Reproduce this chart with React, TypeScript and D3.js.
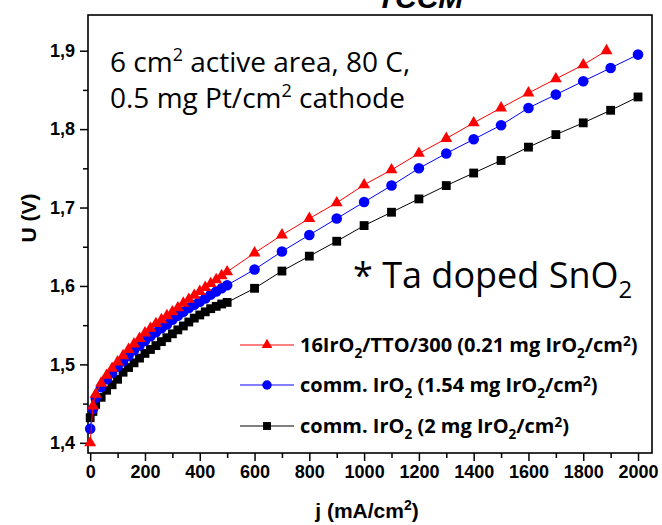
import React, { useEffect, useRef } from "react";
import * as d3 from "d3";

// current density steps (mA/cm2)
const jDense = [0, 10, 20, 40, 60, 80, 100, 120, 140, 160, 180, 200, 220, 240, 260, 280, 300, 320, 340, 360, 380, 400, 420, 440, 460, 480, 500];
const jCoarse = [600, 700, 800, 900, 1000, 1100, 1200, 1300, 1400, 1500, 1600, 1700, 1800, 1900, 2000];
const jRedCoarse = [600, 700, 800, 900, 1000, 1100, 1200, 1300, 1400, 1500, 1600, 1700, 1800, 1885];

// cell voltage (V)
const uRedDense = [1.4, 1.447, 1.462, 1.476, 1.486, 1.495, 1.503, 1.511, 1.519, 1.526, 1.533, 1.54, 1.546, 1.552, 1.557, 1.562, 1.567, 1.572, 1.578, 1.583, 1.588, 1.593, 1.598, 1.603, 1.608, 1.613, 1.618];
const uRedCoarse = [1.642, 1.665, 1.686, 1.706, 1.729, 1.748, 1.769, 1.788, 1.808, 1.827, 1.846, 1.864, 1.882, 1.9];
const uBlueDense = [1.418, 1.443, 1.457, 1.471, 1.481, 1.489, 1.497, 1.504, 1.511, 1.518, 1.524, 1.53, 1.536, 1.541, 1.546, 1.551, 1.557, 1.562, 1.567, 1.572, 1.576, 1.58, 1.584, 1.589, 1.593, 1.597, 1.601];
const uBlueCoarse = [1.621, 1.644, 1.665, 1.686, 1.707, 1.728, 1.75, 1.769, 1.787, 1.805, 1.827, 1.844, 1.861, 1.878, 1.895];
const uBlackDense = [1.432, 1.44, 1.449, 1.458, 1.467, 1.474, 1.481, 1.49, 1.496, 1.502, 1.508, 1.514, 1.519, 1.524, 1.529, 1.534, 1.539, 1.544, 1.549, 1.554, 1.559, 1.563, 1.567, 1.571, 1.574, 1.577, 1.579];
const uBlackCoarse = [1.597, 1.619, 1.638, 1.657, 1.677, 1.694, 1.711, 1.728, 1.744, 1.76, 1.777, 1.793, 1.808, 1.824, 1.841];

const xTicks = [0, 200, 400, 600, 800, 1000, 1200, 1400, 1600, 1800, 2000];
const yTicks = [1.4, 1.5, 1.6, 1.7, 1.8, 1.9];

const W = 662;
const H = 525;

const App = () => {
  const ref = useRef<SVGSVGElement>(null);

  useEffect(() => {
    const svg = d3.select(ref.current);
    svg.selectAll("*").remove();

    const x = d3.scaleLinear().domain([-8, 2051]).range([88, 652]);
    const y = d3.scaleLinear().domain([1.387, 1.9455]).range([453, 15]);

    const series = [
      { color: "#000", j: jDense.concat(jCoarse), u: uBlackDense.concat(uBlackCoarse), sym: d3.symbolSquare, size: 78 },
      { color: "#0000ff", j: jDense.concat(jCoarse), u: uBlueDense.concat(uBlueCoarse), sym: d3.symbolCircle, size: 88 },
      { color: "#ff0000", j: jDense.concat(jRedCoarse), u: uRedDense.concat(uRedCoarse), sym: d3.symbolTriangle, size: 62 },
    ];

    // title, clipped at the top
    svg
      .append("text")
      .attr("x", 420)
      .attr("y", 8)
      .attr("text-anchor", "middle")
      .style("font-family", "Liberation Sans, Arial, sans-serif")
      .style("font-weight", "bold")
      .style("font-style", "italic")
      .style("font-size", "30px")
      .text("TCCM");

    // axes
    const fmt = (d: number) => d3.format(".1f")(d).replace(".", ",");
    const axisFont = (g: any) =>
      g.selectAll("text")
        .style("font-family", "Liberation Sans, Arial, sans-serif")
        .style("font-weight", "bold")
        .style("font-size", "18px")
        .attr("fill", "#000");

    svg
      .append("g")
      .attr("transform", "translate(0,453)")
      .call(d3.axisBottom(x).tickValues(d3.range(100, 2001, 200)).tickSize(5).tickFormat(() => ""))
      .call((g) => g.select(".domain").remove())
      .call((g) => g.selectAll("line").attr("stroke-width", 1.5));

    svg
      .append("g")
      .attr("transform", "translate(0,453)")
      .call(d3.axisBottom(x).tickValues(xTicks).tickSize(8).tickPadding(4).tickFormat(d3.format("d")))
      .call((g) => g.select(".domain").remove())
      .call((g) => g.selectAll("line").attr("stroke-width", 1.5))
      .call(axisFont);

    svg
      .append("g")
      .attr("transform", "translate(88,0)")
      .call(d3.axisLeft(y).tickValues([1.45, 1.55, 1.65, 1.75, 1.85]).tickSize(5).tickFormat(() => ""))
      .call((g) => g.select(".domain").remove())
      .call((g) => g.selectAll("line").attr("stroke-width", 1.5));

    svg
      .append("g")
      .attr("transform", "translate(88,0)")
      .call(d3.axisLeft(y).tickValues(yTicks).tickSize(8).tickPadding(5).tickFormat(fmt as any))
      .call((g) => g.select(".domain").remove())
      .call((g) => g.selectAll("line").attr("stroke-width", 1.5))
      .call(axisFont);

    // frame
    svg
      .append("rect")
      .attr("x", 88)
      .attr("y", 15)
      .attr("width", 564)
      .attr("height", 438)
      .attr("fill", "none")
      .attr("stroke", "#000")
      .attr("stroke-width", 1.6);

    // axis titles
    svg
      .append("text")
      .attr("transform", "translate(36,218) rotate(-90)")
      .attr("text-anchor", "middle")
      .style("font-family", "Liberation Sans, Arial, sans-serif")
      .style("font-weight", "bold")
      .style("font-size", "21px")
      .text("U (V)");

    const xt = svg
      .append("text")
      .attr("x", 367)
      .attr("y", 518)
      .attr("text-anchor", "middle")
      .style("font-family", "Liberation Sans, Arial, sans-serif")
      .style("font-weight", "bold")
      .style("font-size", "21px");
    xt.append("tspan").text("j (mA/cm");
    xt.append("tspan").attr("dy", -8).style("font-size", "14px").text("2");
    xt.append("tspan").attr("dy", 8).text(")");

    // series: black, blue, then red on top
    series.forEach((s) => {
      const pts = s.j.map((j, i) => [x(j), y(s.u[i])] as [number, number]);
      svg
        .append("path")
        .attr("d", d3.line()(pts))
        .attr("fill", "none")
        .attr("stroke", s.color)
        .attr("stroke-width", 1);
      svg
        .append("g")
        .selectAll("path")
        .data(pts)
        .enter()
        .append("path")
        .attr("transform", (d) => `translate(${d[0]},${d[1]})`)
        .attr("d", d3.symbol().type(s.sym).size(s.size)())
        .attr("fill", s.color);
    });

    // annotations
    const noteFont = "Open Sans, Lato, sans-serif";
    const n1 = svg
      .append("text")
      .attr("x", 110)
      .attr("y", 72)
      .style("font-family", noteFont)
      .style("font-size", "28px");
    n1.append("tspan").text("6 cm");
    n1.append("tspan").attr("dy", -11).style("font-size", "18px").text("2");
    n1.append("tspan").attr("dy", 11).text(" active area, 80 C,");

    const n2 = svg
      .append("text")
      .attr("x", 110)
      .attr("y", 108)
      .style("font-family", noteFont)
      .style("font-size", "28px");
    n2.append("tspan").text("0.5 mg Pt/cm");
    n2.append("tspan").attr("dy", -11).style("font-size", "18px").text("2");
    n2.append("tspan").attr("dy", 11).text(" cathode");

    const n3 = svg
      .append("text")
      .attr("x", 353)
      .attr("y", 288)
      .style("font-family", noteFont)
      .style("font-size", "36px");
    n3.append("tspan").text("* Ta doped SnO");
    n3.append("tspan").attr("dy", 10).style("font-size", "24px").text("2");

    // legend
    const legendRows = [
      { s: series[2], parts: [["16IrO", 0], ["2", 1], ["/TTO/300 (0.21 mg IrO", 0], ["2", 1], ["/cm", 0], ["2", -1], [")", 0]] },
      { s: series[1], parts: [["comm. IrO", 0], ["2", 1], [" (1.54 mg IrO", 0], ["2", 1], ["/cm", 0], ["2", -1], [")", 0]] },
      { s: series[0], parts: [["comm. IrO", 0], ["2", 1], [" (2 mg IrO", 0], ["2", 1], ["/cm", 0], ["2", -1], [")", 0]] },
    ];
    const rowY = [345, 385, 426];
    legendRows.forEach((r, k) => {
      const ly = rowY[k];
      svg
        .append("line")
        .attr("x1", 240)
        .attr("x2", 294)
        .attr("y1", ly)
        .attr("y2", ly)
        .attr("stroke", r.s.color)
        .attr("stroke-width", 1);
      svg
        .append("path")
        .attr("transform", `translate(267,${ly})`)
        .attr("d", d3.symbol().type(r.s.sym).size(r.s.size * 0.8)())
        .attr("fill", r.s.color);
      const t = svg
        .append("text")
        .attr("x", 300)
        .attr("y", ly + 7)
        .style("font-family", noteFont)
        .style("font-weight", "bold")
        .style("font-size", "20px");
      let shift = 0;
      r.parts.forEach(([str, pos]) => {
        const target = (pos as number) * 6;
        const ts = t.append("tspan").attr("dy", target - shift).text(str as string);
        if (pos !== 0) ts.style("font-size", "13.5px");
        shift = target;
      });
    });
  }, []);

  return <svg ref={ref} width={W} height={H} style={{ position: "absolute", left: 0, top: 0, background: "#fff" }} />;
};

export default App;
